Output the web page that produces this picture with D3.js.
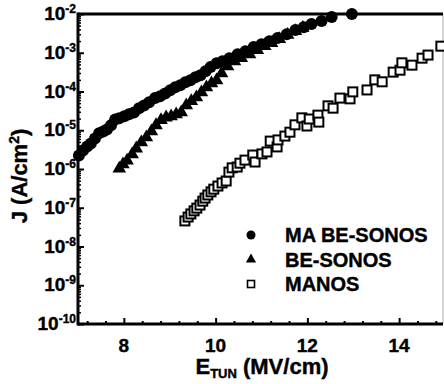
<!DOCTYPE html>
<html>
<head>
<meta charset="utf-8">
<script src="https://cdn.jsdelivr.net/npm/d3@7"></script>
<style>
  body { margin: 0; background: #fff; }
  svg { display: block; font-family: "Liberation Sans", Arial, sans-serif; font-weight: bold; }
  svg text { fill: #000; stroke: #000; stroke-width: 0.4px; }
</style>
</head>
<body>
<svg id="chart" width="444" height="384"></svg>
<script>
// MA BE-SONOS (filled circles): E field (MV/cm) and log10 J (A/cm2)
const maE = [7.02, 7.11, 7.20, 7.28, 7.37, 7.46, 7.55, 7.63, 7.72, 7.81, 7.90, 8.01, 8.11, 8.22, 8.33, 8.44,
  8.55, 8.68, 8.79, 8.90, 9.01, 9.12, 9.23, 9.34, 9.45, 9.56, 9.67, 9.78, 9.89, 10.02, 10.15, 10.30, 10.48,
  10.65, 10.83, 11.00, 11.17, 11.35, 11.55, 11.74, 11.92, 12.09, 12.31, 12.53, 12.97];
const maLogJ = [-5.65, -5.52, -5.42, -5.34, -5.21, -5.08, -5.03, -4.98, -4.87, -4.72, -4.69, -4.64, -4.59, -4.54,
  -4.43, -4.36, -4.28, -4.17, -4.12, -4.05, -3.97, -3.89, -3.84, -3.76, -3.71, -3.63, -3.58, -3.48, -3.37, -3.27,
  -3.22, -3.14, -3.04, -2.96, -2.85, -2.78, -2.70, -2.62, -2.52, -2.41, -2.34, -2.26, -2.18, -2.08, -2.00];

// BE-SONOS (filled triangles)
const beE = [7.90, 7.98, 8.07, 8.18, 8.27, 8.38, 8.49, 8.60, 8.70, 8.81, 8.92, 9.03, 9.14, 9.25, 9.36, 9.47,
  9.58, 9.69, 9.80, 9.91, 10.02, 10.13, 10.26, 10.41, 10.56, 10.74, 10.91, 11.07, 11.22, 11.39, 11.57, 11.74, 11.90];
const beLogJ = [-5.99, -5.88, -5.78, -5.62, -5.47, -5.31, -5.18, -5.03, -4.87, -4.74, -4.67, -4.64, -4.59, -4.54,
  -4.36, -4.25, -4.15, -4.02, -3.89, -3.79, -3.71, -3.53, -3.35, -3.22, -3.14, -3.04, -2.93, -2.83, -2.75, -2.65,
  -2.54, -2.44, -2.36];

// MANOS (open squares)
const manosE = [9.33, 9.40, 9.46, 9.53, 9.59, 9.66, 9.72, 9.77, 9.83, 9.90, 9.96, 10.05, 10.14, 10.23, 10.29,
  10.36, 10.47, 10.53, 10.64, 10.81, 10.86, 11.01, 11.12, 11.19, 11.34, 11.36, 11.51, 11.62, 11.73, 11.88, 11.99,
  12.04, 12.23, 12.25, 12.45, 12.56, 12.71, 12.93, 12.99, 13.30, 13.47, 13.63, 13.87, 14.02, 14.06, 14.28, 14.50,
  14.63, 14.91];
const manosLogJ = [-7.34, -7.24, -7.16, -7.08, -7.01, -6.93, -6.83, -6.75, -6.67, -6.59, -6.52, -6.44, -6.36,
  -6.31, -6.08, -5.97, -5.95, -5.85, -5.77, -5.64, -5.82, -5.61, -5.56, -5.28, -5.43, -5.25, -5.15, -5.05, -4.86,
  -4.68, -4.89, -4.71, -4.61, -4.79, -4.37, -4.43, -4.17, -4.19, -4.01, -3.96, -3.70, -3.75, -3.50, -3.45, -3.26,
  -3.32, -3.14, -3.06, -2.83];

const seriesNames = ["MA BE-SONOS", "BE-SONOS", "MANOS"];
const xTickValues = [8, 10, 12, 14];
const yDecades = [-2, -3, -4, -5, -6, -7, -8, -9, -10];

const plot = { left: 78, right: 443, top: 14, bottom: 324 };

const svg = d3.select("#chart");
const x = d3.scaleLinear().domain([7, 15]).range([78, 445]);
const y = d3.scaleLog().domain([1e-10, 1e-2]).range([plot.bottom, plot.top]);

const toPoints = (es, ls) => es.map((e, i) => ({ e, j: Math.pow(10, ls[i]) }));
const maData = toPoints(maE, maLogJ);
const beData = toPoints(beE, beLogJ);
const manosData = toPoints(manosE, manosLogJ);

// Frame: faint right edge, heavy top
svg.append("line")
  .attr("x1", plot.right).attr("x2", plot.right)
  .attr("y1", plot.top).attr("y2", plot.bottom)
  .attr("stroke", "#aaa").attr("stroke-width", 1);
svg.append("line")
  .attr("x1", plot.left).attr("x2", plot.right)
  .attr("y1", plot.top).attr("y2", plot.top)
  .attr("stroke", "#000").attr("stroke-width", 3);

// Y axis ticks (inward), majors at decades, minors 2..9
const yMinor = [];
for (let p = -10; p < -2; p++) for (let m = 2; m <= 9; m++) yMinor.push(m * Math.pow(10, p));

svg.append("g")
  .attr("transform", `translate(${plot.left},0)`)
  .call(d3.axisRight(y).tickValues(yMinor).tickSize(3).tickFormat(""))
  .call((g) => g.select(".domain").remove())
  .call((g) => g.selectAll("line").attr("stroke-width", 1.5));
svg.append("g")
  .attr("transform", `translate(${plot.left},0)`)
  .call(d3.axisRight(y).tickValues(yDecades.map((p) => Math.pow(10, p))).tickSize(6).tickFormat(""))
  .call((g) => g.select(".domain").remove())
  .call((g) => g.selectAll("line").attr("stroke-width", 2));

// X axis ticks (inward)
const xMinor = d3.range(7.2, 15, 0.4).filter((v) => Math.abs(v / 2 - Math.round(v / 2)) > 0.01);
svg.append("g")
  .attr("transform", `translate(0,${plot.bottom})`)
  .call(d3.axisTop(x).tickValues(xMinor).tickSize(3).tickFormat(""))
  .call((g) => g.select(".domain").remove())
  .call((g) => g.selectAll("line").attr("stroke-width", 2));
svg.append("g")
  .attr("transform", `translate(0,${plot.bottom})`)
  .call(d3.axisTop(x).tickValues(xTickValues).tickSize(6).tickFormat(""))
  .call((g) => g.select(".domain").remove())
  .call((g) => g.selectAll("line").attr("stroke-width", 2));

// Axis lines
svg.append("line")
  .attr("x1", plot.left).attr("x2", plot.left)
  .attr("y1", plot.top - 1.5).attr("y2", plot.bottom + 1.5)
  .attr("stroke", "#000").attr("stroke-width", 3);
svg.append("line")
  .attr("x1", plot.left).attr("x2", plot.right)
  .attr("y1", plot.bottom).attr("y2", plot.bottom)
  .attr("stroke", "#000").attr("stroke-width", 3);

// X tick labels
svg.append("g").selectAll("text")
  .data(xTickValues)
  .join("text")
  .attr("x", (d) => x(d))
  .attr("y", 352)
  .attr("text-anchor", "middle")
  .style("font-size", "19px")
  .text((d) => d);

// Y tick labels: 10^p
const yLabels = svg.append("g").selectAll("text")
  .data(yDecades)
  .join("text")
  .attr("x", 76)
  .attr("y", (d) => y(Math.pow(10, d)) + 6)
  .attr("text-anchor", "end")
  .style("font-size", "19px");
yLabels.append("tspan").text("10");
yLabels.append("tspan")
  .attr("dy", -7)
  .style("font-size", "12px")
  .text((d) => `${d}`);

// Axis titles
const xTitle = svg.append("text")
  .attr("x", 262)
  .attr("y", 374)
  .attr("text-anchor", "middle")
  .style("font-size", "22px");
xTitle.append("tspan").text("E");
xTitle.append("tspan").attr("dy", 4).style("font-size", "13px").text("TUN");
xTitle.append("tspan").attr("dy", -4).text(" (MV/cm)");

const yTitle = svg.append("text")
  .attr("transform", "translate(27,176) rotate(-90)")
  .attr("text-anchor", "middle")
  .style("font-size", "22px");
yTitle.append("tspan").text("J (A/cm");
yTitle.append("tspan").attr("dy", -8).style("font-size", "14px").text("2");
yTitle.append("tspan").attr("dy", 8).text(")");

// Data marks
const triangle = d3.symbol().type(d3.symbolTriangle).size(80);

svg.append("g").selectAll("circle")
  .data(maData)
  .join("circle")
  .attr("cx", (d) => x(d.e))
  .attr("cy", (d) => y(d.j))
  .attr("r", 6)
  .attr("fill", "#000");

svg.append("g").selectAll("path")
  .data(beData)
  .join("path")
  .attr("d", triangle)
  .attr("transform", (d) => `translate(${x(d.e)},${y(d.j)})`)
  .attr("fill", "#000");

svg.append("g").selectAll("rect")
  .data(manosData)
  .join("rect")
  .attr("x", (d) => x(d.e) - 4.5)
  .attr("y", (d) => y(d.j) - 4.5)
  .attr("width", 9)
  .attr("height", 9)
  .attr("fill", "#fff")
  .attr("stroke", "#000")
  .attr("stroke-width", 2);

// Legend
const legend = svg.append("g").attr("transform", "translate(251,235)");
const rows = legend.selectAll("g")
  .data(seriesNames)
  .join("g")
  .attr("transform", (d, i) => `translate(0,${i * 24.5})`);
rows.filter((d, i) => i === 0).append("circle").attr("r", 4.5).attr("fill", "#000");
rows.filter((d, i) => i === 1).append("path").attr("d", d3.symbol().type(d3.symbolTriangle).size(45)).attr("fill", "#000");
rows.filter((d, i) => i === 2).append("rect")
  .attr("x", -3.5).attr("y", -3.5).attr("width", 7).attr("height", 7)
  .attr("fill", "#fff").attr("stroke", "#000").attr("stroke-width", 1.6);
rows.append("text")
  .attr("x", 34)
  .attr("y", 7)
  .style("font-size", "20px")
  .text((d) => d);
</script>
</body>
</html>
